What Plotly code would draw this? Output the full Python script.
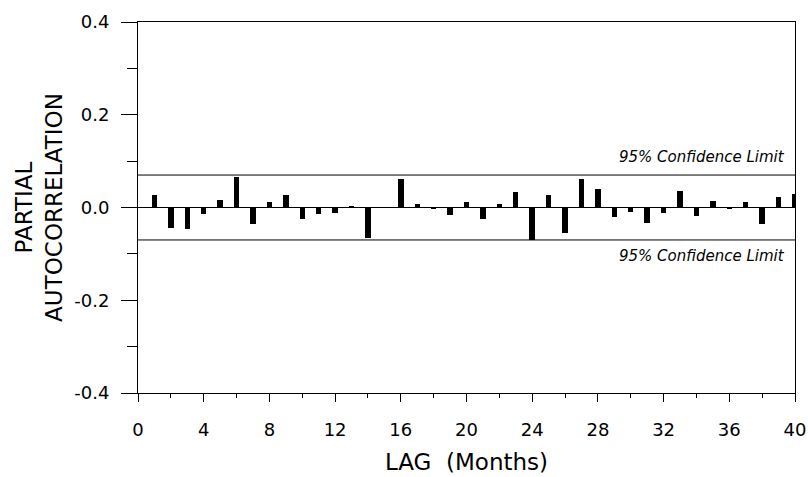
import plotly.graph_objects as go

lags = list(range(1, 41))
pacf = [0.028, -0.044, -0.046, -0.013, 0.016, 0.065, -0.035, 0.011, 0.026, -0.024,
        -0.014, -0.011, 0.003, -0.066, 0.001, 0.062, 0.007, -0.002, -0.017, 0.011,
        -0.025, 0.007, 0.034, -0.069, 0.026, -0.056, 0.062, 0.040, -0.020, -0.010,
        -0.033, -0.011, 0.035, -0.018, 0.014, -0.002, 0.012, -0.035, 0.023, 0.030]
conf_limit = 0.07
conf_label = "95% Confidence Limit"
x_ticks = list(range(0, 41, 4))
y_ticks = [-0.4, -0.2, 0.0, 0.2, 0.4]
y_ticktext = ["-0.4", "-0.2", "0.0", "0.2", "0.4"]

FONT = "DejaVu Sans"

fig = go.Figure()
fig.add_trace(go.Bar(x=lags, y=pacf, width=0.33, marker=dict(color="black", line=dict(width=0)),
                     showlegend=False))
for s in (1, -1):
    fig.add_trace(go.Scatter(x=[0, 40], y=[s * conf_limit] * 2, mode="lines",
                             line=dict(color="black", width=1), showlegend=False,
                             hoverinfo="skip"))

fig.add_annotation(x=39.5, y=conf_limit, xref="x", yref="y", text=conf_label,
                   showarrow=False, xanchor="right", yanchor="bottom", yshift=7,
                   font=dict(family=FONT, size=15, color="black", style="italic"))
fig.add_annotation(x=39.5, y=-conf_limit, xref="x", yref="y", text=conf_label,
                   showarrow=False, xanchor="right", yanchor="top", yshift=-5,
                   font=dict(family=FONT, size=15, color="black", style="italic"))

fig.update_layout(
    width=808, height=477,
    margin=dict(l=138, r=13, t=22, b=84),
    plot_bgcolor="white", paper_bgcolor="white",
    font=dict(family=FONT, color="black"),
    bargap=0,
)
fig.update_xaxes(
    range=[0, 40], tickvals=x_ticks, ticks="outside", ticklen=8, tickwidth=1, tickcolor="black",
    minor=dict(dtick=2, tick0=0, ticks="outside", ticklen=4, tickcolor="black"),
    showline=True, linecolor="black", linewidth=1, mirror=True, showgrid=False, zeroline=False,
    tickfont=dict(size=18), ticklabelstandoff=12, automargin=False,
    title=dict(text="LAG  (Months)", font=dict(size=23), standoff=15),
)
fig.update_yaxes(
    range=[-0.4, 0.4], tickvals=y_ticks, ticktext=y_ticktext,
    ticks="outside", ticklen=16, tickwidth=1, tickcolor="black",
    minor=dict(dtick=0.1, tick0=0, ticks="outside", ticklen=10, tickcolor="black"),
    showline=True, linecolor="black", linewidth=1, mirror=True, showgrid=False,
    zeroline=True, zerolinecolor="black", zerolinewidth=1,
    tickfont=dict(size=18), ticklabelstandoff=8, automargin=False,
    title=dict(text="PARTIAL<br>AUTOCORRELATION", font=dict(size=23), standoff=5),
)

fig.write_html("out.html", config={"displayModeBar": False},
               post_script="document.body.style.margin='0';document.body.style.overflow='hidden';")
